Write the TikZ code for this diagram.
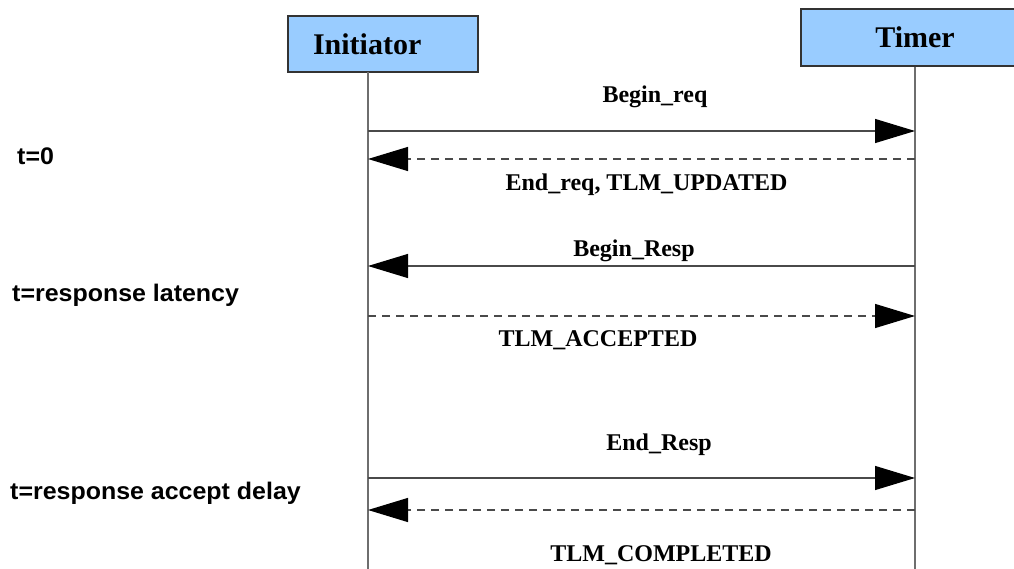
\documentclass[tikz,border=0pt]{standalone}
\usepackage{fontspec}
\setmainfont{Liberation Serif}
\newfontfamily\labelsans{Liberation Sans}
\usetikzlibrary{arrows.meta}

\definecolor{boxfill}{HTML}{99CCFF}
\definecolor{boxline}{HTML}{333333}
\definecolor{lifegray}{HTML}{6E6E6E}
\definecolor{msggray}{HTML}{4A4A4A}

% slightly widened sans text for the time annotations
\newcommand{\widetext}[1]{\scalebox{1.04}[1]{#1}}

\tikzset{
  actor/.style={draw=boxline, line width=1.1pt, fill=boxfill, inner ysep=0pt,
                font=\bfseries\fontsize{30}{34}\selectfont},
  lifeline/.style={draw=lifegray, line width=1.1pt},
  msg/.style={draw=msggray, line width=1.2pt,
              -{Triangle[length=40pt, width=24pt, fill=black, color=black]}},
  reply/.style={msg, dash pattern=on 8pt off 6pt},
  msglabel/.style={anchor=base, inner sep=0pt,
                   font=\bfseries\fontsize{24}{28}\selectfont},
  timelabel/.style={anchor=base west, inner sep=0pt,
                    font=\labelsans\bfseries\fontsize{24}{28}\selectfont},
}

\begin{document}
\begin{tikzpicture}[x=1pt, y=-1pt]
  \clip (0,0) rectangle (1014,569);
  \fill[white] (0,0) rectangle (1014,569);

  % participants
  \node[actor, minimum width=190pt, minimum height=56pt, text width=140pt,
        inner xsep=25pt, align=left] (init) at (383,44) {Initiator};
  \node[actor, minimum width=228pt, minimum height=57pt] (timer) at (915,37.5) {Timer};

  % lifelines
  \coordinate (initTop) at (368,72);
  \coordinate (initEnd) at (368,569);
  \coordinate (timerEnd) at (915,569);
  \draw[lifeline] (initTop) -- (initEnd);
  \draw[lifeline] (timer.south) -- (timerEnd);

  % message end points on the lifelines
  \coordinate (i1) at (368,131); \coordinate (t1) at (915,131);
  \coordinate (i2) at (368,159); \coordinate (t2) at (915,159);
  \coordinate (i3) at (368,266); \coordinate (t3) at (915,266);
  \coordinate (i4) at (368,316); \coordinate (t4) at (915,316);
  \coordinate (i5) at (368,478); \coordinate (t5) at (915,478);
  \coordinate (i6) at (368,510); \coordinate (t6) at (915,510);

  % messages
  \draw[msg]   (i1) -- (t1);
  \draw[reply] (t2) -- (i2);
  \draw[msg]   (t3) -- (i3);
  \draw[reply] (i4) -- (t4);
  \draw[msg]   (i5) -- (t5);
  \draw[reply] (t6) -- (i6);

  % message labels
  \node[msglabel] (l1) at (655,103) {Begin\_req};
  \node[msglabel] (l2) at (646.5,191) {End\_req, TLM\_UPDATED};
  \node[msglabel] (l3) at (634,257) {Begin\_Resp};
  \node[msglabel] (l4) at (598,346) {TLM\_ACCEPTED};
  \node[msglabel] (l5) at (659,450) {End\_Resp};
  \node[msglabel] (l6) at (661,561) {TLM\_COMPLETED};

  % time annotations
  \node[timelabel] (tz) at (17,165) {\widetext{t=0}};
  \node[timelabel] (tl) at (12,301) {\widetext{t=response latency}};
  \node[timelabel] (ta) at (10,499) {\widetext{t=response accept delay}};
\end{tikzpicture}
\end{document}
